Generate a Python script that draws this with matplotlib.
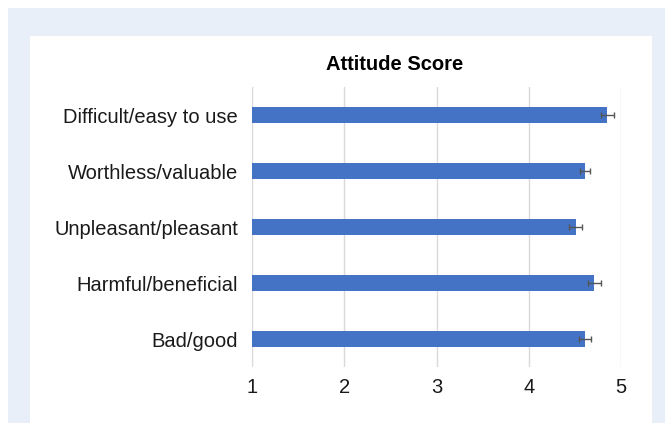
import numpy as np
import matplotlib.pyplot as plt
from matplotlib.patches import Rectangle

plt.rcParams['font.family'] = ['Liberation Sans', 'DejaVu Sans']

labels = ["Difficult/easy to use", "Worthless/valuable", "Unpleasant/pleasant",
          "Harmful/beneficial", "Bad/good"]
scores = [4.85, 4.61, 4.51, 4.71, 4.61]
errors = [0.07, 0.05, 0.07, 0.07, 0.06]

W, H = 665, 423
fig = plt.figure(figsize=(W / 100, H / 100), dpi=100, facecolor="white")

# light blue page background and white card
fig.patches.append(Rectangle((8 / W, 0), 1 - 8 / W, (H - 8) / H, transform=fig.transFigure,
                             facecolor="#e8eff8", edgecolor="none", zorder=-2))
fig.patches.append(Rectangle((30 / W, 0), 622 / W, (H - 36) / H, transform=fig.transFigure,
                             facecolor="white", edgecolor="none", zorder=-1))

ax = fig.add_axes([252 / W, (H - 367) / H, 369 / W, 280 / H])
ax.set_facecolor("none")
ax.set_zorder(2)

y = np.arange(len(labels))
ax.barh(y, np.array(scores) - 1, left=1, height=0.28, color="#4472c4", zorder=3)
ax.errorbar(scores, y, xerr=errors, fmt="none", ecolor="#555555", elinewidth=1,
            capsize=2, capthick=1, zorder=4)

ax.set_xlim(1, 5)
ax.set_ylim(len(labels) - 0.5, -0.5)
ax.set_yticks(y)
ax.set_yticklabels(labels, fontsize=14.5, color="#1a1a1a")
ax.set_xticks([1, 2, 3, 4, 5])
ax.set_xticklabels(["1", "2", "3", "4", "5"], fontsize=14.5, color="#1a1a1a")
ax.tick_params(axis="y", length=0, pad=10)
ax.tick_params(axis="x", length=0, pad=8)
ax.grid(axis="x", color="#d9d9d9", linewidth=1, zorder=0)
for s in ax.spines.values():
    s.set_visible(False)

fig.text(395 / W, (H - 64) / H, "Attitude Score", ha="center", va="center",
         fontsize=14.5, fontweight="bold", color="black", zorder=5)

fig.savefig("out.png", dpi=100, facecolor="white")
